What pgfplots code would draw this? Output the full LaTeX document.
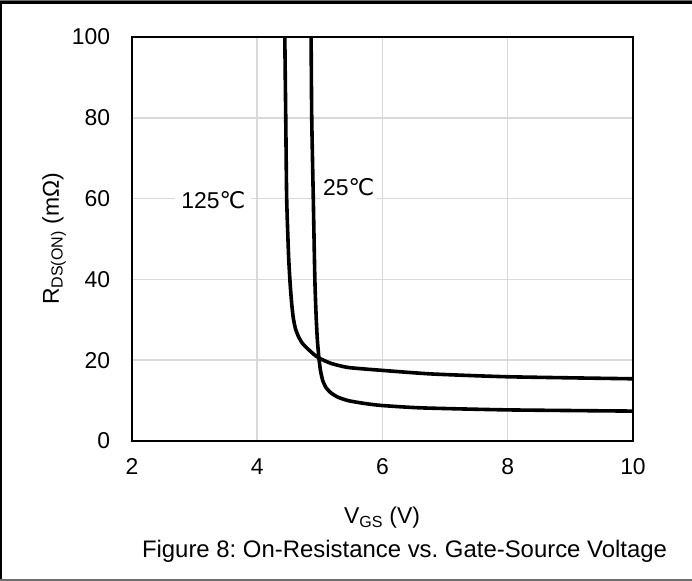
\documentclass[border=0pt]{standalone}
\usepackage{fontspec}
\setmainfont{Liberation Sans}
\newfontfamily\symfont{DejaVu Sans}
\usepackage{pgfplots}
\pgfplotsset{compat=1.18}

\definecolor{gridgray}{HTML}{D9D9D9}
\definecolor{framegray}{HTML}{6E6E6E}
\newcommand{\degC}{{\symfont\char"2103}}

% R_DS(ON) vs V_GS
\pgfplotstableread{
x y
4.44 100
4.455 80
4.47 60
4.50 46
4.525 39
4.55 34
4.575 30.5
4.61 27.8
4.66 25.8
4.72 24.2
4.80 22.9
4.90 21.5
4.99 20.5
5.18 19.2
5.45 18.2
5.98 17.5
6.78 16.6
8.00 15.9
10.0 15.4
}\hot
\pgfplotstableread{
x y
4.86 100
4.87 80
4.895 60
4.92 40
4.94 31
4.96 25
4.985 20.5
5.01 17.4
5.045 15.0
5.095 13.3
5.17 12.0
5.28 10.9
5.45 10.0
5.71 9.3
5.98 8.8
6.62 8.2
8.00 7.7
10.0 7.4
}\cold

\begin{document}
\frenchspacing
\begin{tikzpicture}
\useasboundingbox (-132bp,-140bp) rectangle (560bp,441bp);
\fontsize{23}{27}\selectfont
\begin{axis}[
  scale only axis,
  width=501bp, height=404bp,
  xmin=2, xmax=10, ymin=0, ymax=100,
  xtick={2,4,...,10}, ytick={0,20,...,100},
  major tick length=0pt,
  grid=major,
  major grid style={gridgray, line width=1.5bp},
  axis line style={black, line width=2.2bp},
  /pgf/number format/assume math mode=true,
  ticklabel style={font=\fontsize{23}{27}\selectfont},
  xticklabel style={yshift=-10bp},
  yticklabel style={xshift=-14bp},
  clip=true,
]
\addplot[black, line width=3.6bp, smooth, tension=0.35] table {\hot};
\addplot[black, line width=3.6bp, smooth, tension=0.35] table {\cold};
\node[fill=white, inner xsep=6bp, inner ysep=3bp] at (axis cs:3.30,59.7) {125\degC};
\node[fill=white, inner xsep=3bp, inner ysep=3bp, anchor=west] at (axis cs:5.00,62.9) {25\degC};
\end{axis}
\node at (250bp,-77bp) {V\textsubscript{GS} (V)};
\node at (272.5bp,-110bp) {\fontsize{24}{28}\selectfont Figure 8: On-Resistance vs. Gate-Source Voltage};
\node[rotate=90] at (-78bp,202bp) {R\textsubscript{DS(ON)} (mΩ)};
\draw[black, line width=3bp] (-132bp,438.5bp) -- (560bp,438.5bp);
\draw[framegray, line width=1bp] (-132bp,440.5bp) -- (560bp,440.5bp);
\draw[black, line width=2bp] (-131bp,-140bp) -- (-131bp,440bp);
\draw[framegray, line width=1.5bp] (-132bp,-139bp) -- (560bp,-139bp);
\end{tikzpicture}
\end{document}
